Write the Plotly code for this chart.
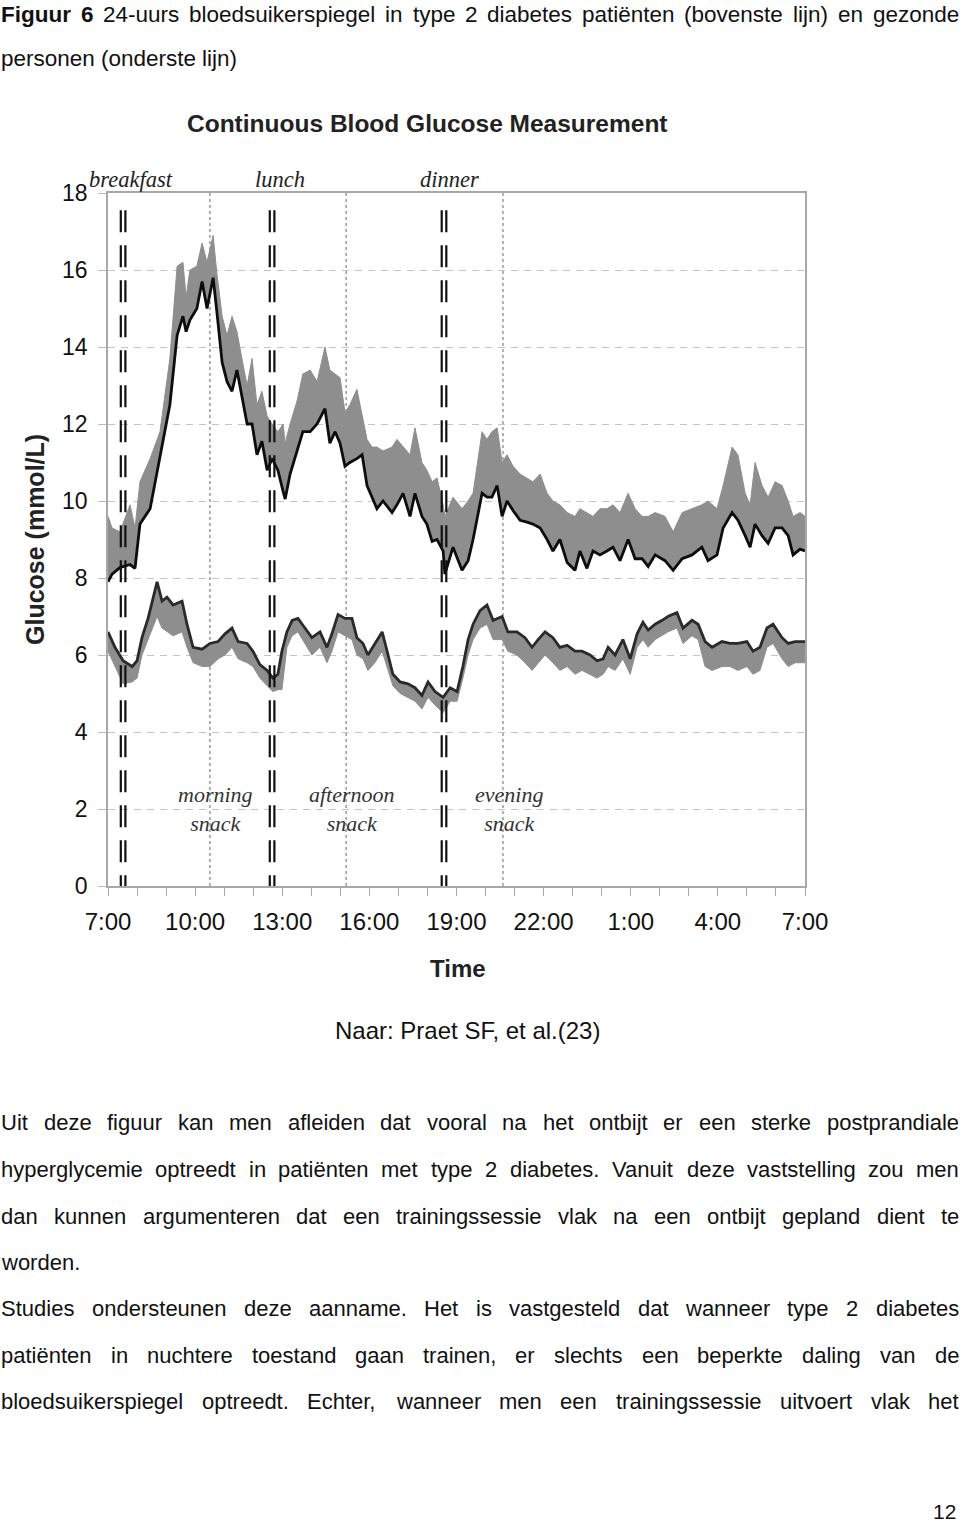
import plotly.graph_objects as go

# ---------------- data (hours after 07:00) ----------------
t2d_time = [0.00, 0.14, 0.41, 0.76, 0.93, 1.10, 1.45, 1.79, 2.13, 2.38, 2.58, 2.69, 2.82, 3.06, 3.24, 3.41,
            3.62, 3.75, 3.93, 4.10, 4.27, 4.44, 4.61, 4.79, 4.96, 5.13, 5.30, 5.48, 5.65, 5.85, 6.03, 6.10,
            6.27, 6.51, 6.71, 6.96, 7.20, 7.47, 7.64, 7.82, 7.99, 8.16, 8.33, 8.57, 8.75, 8.92, 9.09, 9.26,
            9.47, 9.78, 9.95, 10.16, 10.40, 10.57, 10.81, 10.98, 11.16, 11.33, 11.54, 11.60, 11.88, 12.19,
            12.40, 12.57, 12.88, 13.05, 13.22, 13.40, 13.57, 13.74, 13.95, 14.19, 14.43, 14.63, 14.88, 15.12,
            15.32, 15.56, 15.81, 16.08, 16.25, 16.49, 16.70, 16.94, 17.18, 17.39, 17.63, 17.91, 18.15, 18.39,
            18.60, 18.84, 19.18, 19.46, 19.77, 20.11, 20.45, 20.66, 20.97, 21.18, 21.49, 21.69, 21.94, 22.11,
            22.28, 22.52, 22.73, 22.97, 23.21, 23.42, 23.59, 23.83, 24.00]
t2d_mean = [7.9, 8.1, 8.27, 8.35, 8.25, 9.4, 9.8, 11.1, 12.5, 14.3, 14.8, 14.4, 14.7, 15.0, 15.7, 15.0,
            15.8, 14.9, 13.6, 13.1, 12.85, 13.4, 12.7, 12.0, 12.0, 11.2, 11.55, 10.8, 11.1, 10.8, 10.25, 10.05,
            10.7, 11.3, 11.8, 11.8, 12.0, 12.4, 11.5, 11.8, 11.5, 10.9, 11.0, 11.1, 11.2, 10.4, 10.1, 9.8,
            10.0, 9.7, 9.9, 10.2, 9.6, 10.2, 9.6, 9.4, 8.95, 9.0, 8.7, 8.1, 8.8, 8.2,
            8.45, 9.0, 10.2, 10.1, 10.1, 10.4, 9.6, 10.0, 9.75, 9.5, 9.45, 9.4, 9.3, 9.0,
            8.7, 9.0, 8.4, 8.2, 8.7, 8.25, 8.7, 8.6, 8.7, 8.8, 8.45, 9.0, 8.5, 8.5,
            8.3, 8.6, 8.45, 8.2, 8.5, 8.6, 8.8, 8.45, 8.6, 9.3, 9.7, 9.5, 9.1, 8.8,
            9.4, 9.1, 8.9, 9.3, 9.3, 9.1, 8.6, 8.75, 8.7]
t2d_upper = [9.6, 9.3, 9.2, 9.9, 9.3, 10.5, 11.1, 11.8, 13.7, 16.1, 16.2, 15.3, 16.0, 16.1, 16.7, 16.2,
             16.9, 15.9, 14.8, 14.3, 14.8, 14.4, 13.7, 13.0, 13.7, 12.5, 12.85, 12.2, 12.0, 11.8, 12.0, 11.5,
             12.0, 12.6, 13.3, 13.4, 13.1, 14.0, 13.4, 13.3, 13.2, 12.3, 12.5, 12.9, 12.2, 11.6, 11.4, 11.4,
             11.3, 11.4, 11.6, 11.4, 11.2, 11.9, 11.0, 10.8, 10.5, 10.6, 9.9, 9.6, 10.1, 9.8,
             10.0, 10.2, 11.8, 11.6, 11.8, 11.9, 11.0, 11.2, 10.9, 10.7, 10.6, 10.5, 10.7, 10.2,
             10.0, 9.9, 9.7, 9.6, 9.8, 9.7, 9.6, 9.8, 9.8, 9.9, 9.7, 10.2, 9.8, 9.6,
             9.6, 9.7, 9.6, 9.2, 9.7, 9.8, 9.9, 10.0, 9.8, 10.4, 11.4, 11.2, 10.2, 9.9,
             11.0, 10.4, 10.1, 10.5, 10.4, 10.0, 9.6, 9.7, 9.6]

healthy_time = [0.00, 0.24, 0.52, 0.83, 1.00, 1.17, 1.38, 1.69, 1.86, 2.03, 2.24, 2.55, 2.72, 2.93, 3.24, 3.51,
                3.79, 4.03, 4.27, 4.48, 4.79, 4.99, 5.23, 5.48, 5.68, 5.85, 5.99, 6.16, 6.34, 6.54, 6.78, 7.02,
                7.30, 7.54, 7.71, 7.92, 8.16, 8.40, 8.57, 8.78, 8.95, 9.19, 9.44, 9.61, 9.81, 10.06, 10.33, 10.57,
                10.81, 11.02, 11.26, 11.54, 11.78, 12.02, 12.22, 12.40, 12.57, 12.81, 13.05, 13.26, 13.57, 13.77,
                14.08, 14.36, 14.60, 14.81, 15.05, 15.32, 15.56, 15.81, 16.08, 16.32, 16.60, 16.84, 17.05, 17.22,
                17.46, 17.73, 17.98, 18.22, 18.42, 18.60, 18.84, 19.08, 19.28, 19.59, 19.80, 20.11, 20.32, 20.56,
                20.80, 21.14, 21.42, 21.69, 22.00, 22.21, 22.45, 22.69, 22.90, 23.21, 23.42, 23.66, 24.00]
healthy_mean = [6.6, 6.2, 5.85, 5.7, 5.85, 6.45, 6.95, 7.9, 7.4, 7.5, 7.3, 7.4, 6.8, 6.2, 6.15, 6.3,
                6.35, 6.55, 6.7, 6.35, 6.3, 6.1, 5.75, 5.6, 5.4, 5.5, 6.1, 6.6, 6.9, 6.95, 6.7, 6.45,
                6.6, 6.2, 6.55, 7.05, 6.95, 6.95, 6.45, 6.3, 6.0, 6.3, 6.6, 6.1, 5.5, 5.3, 5.25, 5.15,
                4.95, 5.3, 5.05, 4.9, 5.15, 5.05, 5.7, 6.4, 6.8, 7.15, 7.3, 6.9, 7.0, 6.6,
                6.6, 6.45, 6.2, 6.4, 6.6, 6.45, 6.2, 6.25, 6.1, 6.1, 6.0, 5.85, 5.9, 6.2,
                6.0, 6.4, 5.9, 6.55, 6.85, 6.65, 6.8, 6.9, 7.0, 7.1, 6.7, 6.9, 6.8, 6.35,
                6.2, 6.35, 6.3, 6.3, 6.35, 6.1, 6.2, 6.7, 6.8, 6.45, 6.3, 6.35, 6.35]
healthy_lower = [6.1, 5.7, 5.25, 5.3, 5.4, 6.0, 6.4, 7.0, 6.7, 6.6, 6.5, 6.6, 6.2, 5.8, 5.7, 5.7,
                 5.9, 6.0, 6.2, 5.9, 5.8, 5.7, 5.4, 5.2, 5.05, 5.1, 5.1, 6.2, 6.5, 6.6, 6.3, 6.0,
                 6.2, 5.8, 6.1, 6.6, 6.5, 6.4, 6.0, 5.9, 5.6, 5.8, 6.1, 5.7, 5.2, 5.0, 4.9, 4.8,
                 4.6, 4.9, 4.7, 4.5, 4.8, 4.8, 5.4, 6.0, 6.4, 6.7, 6.8, 6.4, 6.4, 6.1,
                 6.0, 5.8, 5.6, 5.8, 6.0, 5.8, 5.6, 5.7, 5.5, 5.6, 5.5, 5.4, 5.5, 5.7,
                 5.6, 5.9, 5.5, 6.2, 6.4, 6.2, 6.4, 6.5, 6.6, 6.7, 6.3, 6.5, 6.4, 5.7,
                 5.6, 5.7, 5.7, 5.6, 5.7, 5.5, 5.6, 6.2, 6.3, 5.9, 5.7, 5.8, 5.8]

meal_names = ["breakfast", "lunch", "dinner"]
meal_times = [0.52, 5.65, 11.57]
snack_names = ["morning<br>snack", "afternoon<br>snack", "evening<br>snack"]
snack_times = [3.51, 8.20, 13.60]

x_tickvals = [0, 3, 6, 9, 12, 15, 18, 21, 24]
x_ticktext = ["7:00", "10:00", "13:00", "16:00", "19:00", "22:00", "1:00", "4:00", "7:00"]
y_tickvals = [0, 2, 4, 6, 8, 10, 12, 14, 16, 18]

W, H = 960, 1525
PX0, PX1, PY0, PY1 = 108, 805, 193, 886

fig = go.Figure()
GREY = "#8e8e8e"
# diabetes band (mean -> upper)
fig.add_trace(go.Scatter(x=t2d_time, y=t2d_mean, mode="lines", line=dict(width=0, color=GREY),
                         showlegend=False, hoverinfo="skip"))
fig.add_trace(go.Scatter(x=t2d_time, y=t2d_upper, mode="lines", line=dict(width=1, color=GREY),
                         fill="tonexty", fillcolor=GREY, showlegend=False))
fig.add_trace(go.Scatter(x=t2d_time, y=t2d_mean, mode="lines", line=dict(width=2.8, color="#0d0d0d"),
                         showlegend=False))
# healthy band (lower -> mean)
fig.add_trace(go.Scatter(x=healthy_time, y=healthy_lower, mode="lines", line=dict(width=1, color=GREY),
                         showlegend=False, hoverinfo="skip"))
fig.add_trace(go.Scatter(x=healthy_time, y=healthy_mean, mode="lines", line=dict(width=0, color=GREY),
                         fill="tonexty", fillcolor=GREY, showlegend=False))
fig.add_trace(go.Scatter(x=healthy_time, y=healthy_mean, mode="lines", line=dict(width=2.8, color="#2a2a2a"),
                         showlegend=False))

shapes = []
for t in snack_times:
    shapes.append(dict(type="line", xref="x", yref="y", x0=t, x1=t, y0=0, y1=18,
                       line=dict(color="#8a8a8a", width=1.3, dash="dot"), layer="below"))
for t in meal_times:
    for off in (-2.3, 2.3):
        shapes.append(dict(type="line", xref="x", yref="y", xsizemode="pixel", xanchor=t,
                           x0=off, x1=off, y0=17.55, y1=0,
                           line=dict(color="#111111", width=2.2, dash="22px,13px")))

ann = []
serif = "Liberation Serif"
for name, t in zip(meal_names, meal_times):
    ann.append(dict(x=t, y=1 - 180 / H, xref="x", yref="paper", text="<i>" + name + "</i>",
                    xshift={"breakfast": 8, "lunch": 8, "dinner": 5}[name], showarrow=False,
                    font=dict(family=serif, size=22.5, color="#222"), xanchor="center", yanchor="middle"))
for name, t in zip(snack_names, snack_times):
    ann.append(dict(x=t, y=1 - 809 / H, xref="x", yref="paper", text="<i>" + name + "</i>",
                    xshift=6, showarrow=False, font=dict(family=serif, size=22, color="#333"),
                    xanchor="center", yanchor="middle"))

ann.append(dict(x=427 / W, y=1 - 123 / H, xref="paper", yref="paper", xanchor="center", yanchor="middle",
                text="<b>Continuous Blood Glucose Measurement</b>", showarrow=False,
                font=dict(family="Liberation Sans", size=24.5, color="#222")))
ann.append(dict(x=35 / W, y=1 - 540 / H, xref="paper", yref="paper", textangle=-90,
                xanchor="center", yanchor="middle",
                text="<b>Glucose (mmol/L)</b>", showarrow=False,
                font=dict(family="Liberation Sans", size=25, color="#222")))
ann.append(dict(x=458 / W, y=1 - 968 / H, xref="paper", yref="paper", xanchor="center", yanchor="middle",
                text="<b>Time</b>", showarrow=False,
                font=dict(family="Liberation Sans", size=24, color="#222")))

# ---------------- page text ----------------
REG = {'a': 556, 'b': 556, 'c': 500, 'd': 556, 'e': 556, 'f': 278, 'g': 556, 'h': 556, 'i': 222, 'j': 222,
       'k': 500, 'l': 222, 'm': 833, 'n': 556, 'o': 556, 'p': 556, 'q': 556, 'r': 333, 's': 500, 't': 278,
       'u': 556, 'v': 500, 'w': 722, 'x': 500, 'y': 500, 'z': 500, 'ë': 556,
       'A': 667, 'B': 667, 'C': 722, 'D': 722, 'E': 667, 'F': 611, 'G': 778, 'H': 722, 'I': 278, 'J': 500,
       'K': 667, 'L': 556, 'M': 833, 'N': 722, 'O': 778, 'P': 667, 'Q': 778, 'R': 722, 'S': 667, 'T': 611,
       'U': 722, 'V': 667, 'W': 944, 'X': 667, 'Y': 667, 'Z': 611,
       '.': 278, ',': 278, ':': 278, '(': 333, ')': 333, '-': 333, ' ': 278}
BOLD = {'a': 556, 'b': 611, 'c': 556, 'd': 611, 'e': 556, 'f': 333, 'g': 611, 'h': 611, 'i': 278, 'j': 278,
        'k': 556, 'l': 278, 'm': 889, 'n': 611, 'o': 611, 'p': 611, 'q': 611, 'r': 389, 's': 556, 't': 333,
        'u': 611, 'v': 556, 'w': 778, 'x': 556, 'y': 556, 'z': 500, 'F': 611}


def wwidth(word, size, bold):
    tab = BOLD if bold else REG
    return sum(tab.get(c, REG.get(c, 556)) for c in word) * size / 1000.0


TXT_FONT = "Liberation Sans"


def text_line(line, ycen, size=22, justify=True, nbold=0, left=0.0, right=958.0):
    words = line.split(" ")
    widths = [wwidth(w, size, i < nbold) for i, w in enumerate(words)]
    if justify and len(words) > 1:
        gap = (right - left - sum(widths)) / (len(words) - 1)
    else:
        gap = REG[' '] * size / 1000.0
    x = left
    for i, w in enumerate(words):
        txt = "<b>" + w + "</b>" if i < nbold else w
        ann.append(dict(x=x / W, y=1 - ycen / H, xref="paper", yref="paper", text=txt, showarrow=False,
                        xanchor="left", yanchor="middle", borderpad=0,
                        font=dict(family=TXT_FONT, size=size, color="#111")))
        x += widths[i] + gap


text_line("Figuur 6 24-uurs bloedsuikerspiegel in type 2 diabetes patiënten (bovenste lijn) en gezonde",
          15, size=22.5, nbold=2)
text_line("personen (onderste lijn)", 58, size=22.5, justify=False)
ann.append(dict(x=467 / W, y=1 - 1030 / H, xref="paper", yref="paper", text="Naar: Praet SF, et al.(23)",
                showarrow=False, xanchor="center", yanchor="middle",
                font=dict(family=TXT_FONT, size=24, color="#111")))
body = [
    ("Uit deze figuur kan men afleiden dat vooral na het ontbijt er een sterke postprandiale", 1122, True),
    ("hyperglycemie optreedt in patiënten met type 2 diabetes. Vanuit deze vaststelling zou men", 1169, True),
    ("dan kunnen argumenteren dat een trainingssessie vlak na een ontbijt gepland dient te", 1216, True),
    ("worden.", 1262, False),
    ("Studies ondersteunen deze aanname. Het is vastgesteld dat wanneer type 2 diabetes", 1308, True),
    ("patiënten in nuchtere toestand gaan trainen, er slechts een beperkte daling van de", 1355, True),
    ("bloedsuikerspiegel optreedt. Echter, wanneer men een trainingssessie uitvoert vlak het", 1401, True),
]
for line, yc, just in body:
    text_line(line, yc, justify=just)
ann.append(dict(x=958 / W, y=1 - 1511 / H, xref="paper", yref="paper", text="12", showarrow=False,
                xanchor="right", yanchor="middle", font=dict(family=TXT_FONT, size=21, color="#111")))

axis_font_x = dict(family="Liberation Sans", size=24, color="#111")
axis_font_y = dict(family="Liberation Sans", size=23, color="#111")
fig.update_layout(
    width=W, height=H, margin=dict(l=0, r=0, t=0, b=0, pad=0, autoexpand=False),
    paper_bgcolor="white", plot_bgcolor="white", showlegend=False,
    shapes=shapes, annotations=ann,
    xaxis=dict(domain=[PX0 / W, PX1 / W], range=[0, 24], tickvals=x_tickvals, ticktext=x_ticktext,
               ticks="outside", ticklen=8, tickcolor="#aaaaaa", tickwidth=1.2, automargin=False,
               minor=dict(dtick=1, ticks="outside", ticklen=8, tickcolor="#aaaaaa", tickwidth=1.2),
               showline=True, mirror=True, linecolor="#a8a8a8", linewidth=1.8,
               showgrid=False, zeroline=False, tickfont=axis_font_x, ticklabelstandoff=5),
    yaxis=dict(domain=[1 - PY1 / H, 1 - PY0 / H], range=[0, 18], tickvals=y_tickvals,
               ticks="outside", ticklen=8, tickcolor="#bbbbbb", tickwidth=1, automargin=False,
               showline=True, mirror=True, linecolor="#a8a8a8", linewidth=1.8,
               showgrid=True, gridcolor="#c4c4c4", griddash="7px,6px", gridwidth=1,
               zeroline=False, tickfont=axis_font_y, ticklabelstandoff=6),
)

fig.write_html("out.html", config={"displayModeBar": False},
               post_script="document.body.style.margin='0px';document.body.style.overflow='hidden';")
